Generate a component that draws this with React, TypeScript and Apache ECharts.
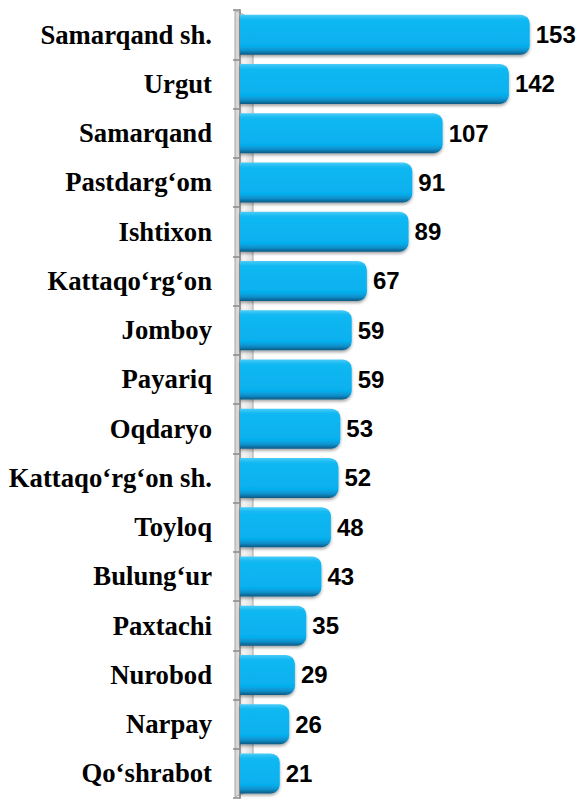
import React, { useEffect, useRef } from "react";
import * as echarts from "echarts";

const categories = [
  "Samarqand sh.",
  "Urgut",
  "Samarqand",
  "Pastdarg‘om",
  "Ishtixon",
  "Kattaqo‘rg‘on",
  "Jomboy",
  "Payariq",
  "Oqdaryo",
  "Kattaqo‘rg‘on sh.",
  "Toyloq",
  "Bulung‘ur",
  "Paxtachi",
  "Nurobod",
  "Narpay",
  "Qo‘shrabot",
];
const values = [153, 142, 107, 91, 89, 67, 59, 59, 53, 52, 48, 43, 35, 29, 26, 21];

export default function App() {
  const ref = useRef<HTMLDivElement>(null);
  useEffect(() => {
    document.body.style.margin = "0";
    const chart = echarts.init(ref.current!, null, { renderer: "svg" });
    chart.setOption({
      animation: false,
      backgroundColor: "#ffffff",
      grid: { left: 240, right: 37, top: 10, bottom: 1, containLabel: false },
      xAxis: {
        type: "value",
        min: 0,
        max: 160,
        show: false,
      },
      yAxis: {
        type: "category",
        data: categories,
        inverse: true,
        offset: 6,
        axisLine: { show: true, lineStyle: { color: "#9a9a9a", width: 2 } },
        axisTick: { show: true, length: 7, lineStyle: { color: "#8a8a8a", width: 1.5 } },
        axisLabel: {
          margin: 22,
          color: "#000000",
          fontFamily: "'Liberation Serif', 'Times New Roman', serif",
          fontWeight: "bold",
          fontSize: 26.7,
        },
        splitLine: { show: false },
      },
      graphic: [
        {
          type: "polygon",
          z: 0,
          shape: { points: [[235, 10], [253, 20], [253, 789], [235, 797]] },
          style: {
            fill: new echarts.graphic.LinearGradient(0, 0, 1, 0, [
              { offset: 0, color: "#d0d0d0" },
              { offset: 0.5, color: "#f4f4f4" },
              { offset: 1, color: "#dadada" },
            ]),
            stroke: "#a8a8a8",
            lineWidth: 1,
          },
        },
      ],
      series: [
        {
          type: "bar",
          data: values,
          barWidth: 40,
          z: 3,
          itemStyle: {
            borderRadius: [0, 9, 9, 0],
            color: new echarts.graphic.LinearGradient(0, 0, 0, 1, [
              { offset: 0, color: "#4ccdf8" },
              { offset: 0.12, color: "#12b8f2" },
              { offset: 0.78, color: "#06b0ee" },
              { offset: 0.9, color: "#0890cb" },
              { offset: 1, color: "#0b5a84" },
            ]),
            shadowColor: "rgba(0,0,0,0.35)",
            shadowBlur: 3,
            shadowOffsetY: 2,
          },
          label: {
            show: true,
            position: "right",
            distance: 6,
            color: "#000000",
            fontFamily: "'Liberation Sans', Arial, sans-serif",
            fontWeight: "bold",
            fontSize: 24,
          },
        },
      ],
    });
    return () => chart.dispose();
  }, []);
  return <div ref={ref} style={{ width: 580, height: 799 }} />;
}
